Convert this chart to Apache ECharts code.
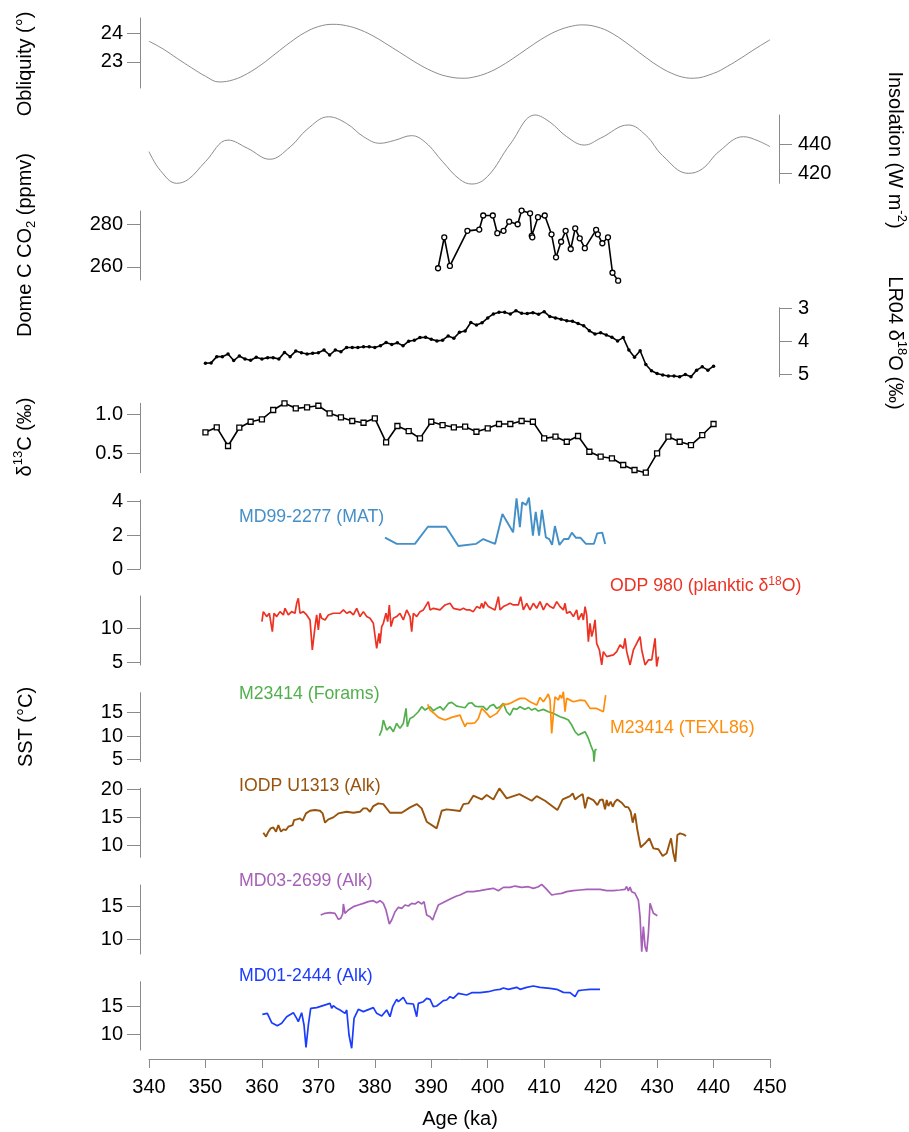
<!DOCTYPE html>
<html><head><meta charset="utf-8">
<script src="https://cdn.jsdelivr.net/npm/echarts@6/dist/echarts.min.js"></script>
<style>html,body{margin:0;padding:0;background:#fff}#c{width:909px;height:1132px}</style>
</head><body><div id="c"></div>
<script>
// ---------- DATA (age ka, value) ----------
const obliquity = [[340,23.72],[342.5,23.45],[345,23.12],[347.5,22.80],[350,22.50],[352.4,22.30],[355,22.38],[357.5,22.60],[360,22.92],[362.5,23.30],[365,23.68],[367.5,24.01],[370,24.23],[372.6,24.31],[375,24.26],[377.5,24.11],[380,23.87],[382.5,23.57],[385,23.26],[387.5,22.95],[390,22.69],[392.5,22.51],[395.6,22.43],[397.5,22.47],[400,22.62],[402.5,22.87],[405,23.19],[407.5,23.53],[410,23.85],[412.5,24.10],[415,24.25],[416.9,24.29],[420,24.18],[422.5,23.94],[425,23.60],[427.5,23.23],[430,22.88],[432.5,22.61],[435,22.45],[436.4,22.43],[440,22.60],[442.5,22.85],[445,23.15],[447.5,23.47],[450,23.77]];
const insolation = [[340,434.8],[342,422],[344.9,413.2],[347,416],[350,428],[354,442.7],[357.5,437],[361.4,429.6],[365,438],[368,450],[371.8,458.6],[375,454],[378,445],[380.9,440.5],[383.5,442.5],[386.5,445.7],[389,441],[392,428],[395,416],[397.2,412.7],[400,418],[404,440],[408.4,459.8],[411,455],[414,445],[417.1,439.3],[420,444],[424.9,453],[428,446],[431,432],[435.5,420],[438,423],[441,435],[445.3,445],[448,442],[450,438.2]];
const co2 = [[391.2,259.4],[392.3,273.9],[393.3,260.5],[396.4,276.9],[398.5,277.5],[399.2,284.1],[400.9,284.1],[401.7,275.8],[402.8,276.9],[403.8,281.2],[405.3,280.0],[406.0,286.4],[407.5,285.1],[407.8,274.6],[407.9,273.9],[408.9,283.3],[410.1,284.1],[411.3,275.3],[412.1,264.5],[413.0,271.8],[413.8,276.9],[414.7,268.4],[415.5,278.1],[416.3,273.4],[417.2,268.8],[419.2,277.4],[419.5,275.3],[420.3,271.1],[421.3,273.9],[422.1,257.3],[423.1,253.6]];
const lr04 = [[350,4.67],[351,4.66],[352,4.47],[353,4.47],[354,4.39],[355,4.59],[356,4.45],[357,4.54],[358,4.58],[359,4.49],[360,4.54],[361,4.50],[362,4.50],[363,4.54],[364,4.34],[365,4.47],[366,4.30],[367,4.35],[368,4.39],[369,4.37],[370,4.35],[371,4.27],[372,4.42],[373,4.27],[374,4.32],[375,4.19],[376,4.19],[377,4.19],[378,4.17],[379,4.17],[380,4.19],[381,4.14],[382,4.04],[383,4.10],[384,4.05],[385,4.14],[386,4.00],[387,3.97],[388,3.89],[389,3.88],[390,3.94],[391,3.99],[392,3.97],[393,3.84],[394,3.91],[395,3.73],[396,3.69],[397,3.43],[398,3.51],[399,3.44],[400,3.29],[401,3.17],[402,3.12],[403,3.12],[404,3.17],[405,3.07],[406,3.15],[407,3.16],[408,3.13],[409,3.18],[410,3.10],[411,3.25],[412,3.29],[413,3.33],[414,3.38],[415,3.39],[416,3.46],[417,3.53],[418,3.68],[419,3.78],[420,3.74],[421,3.81],[422,3.88],[423,3.99],[424,3.89],[425,4.27],[426,4.49],[427,4.29],[428,4.71],[429,4.90],[430,4.98],[431,5.03],[432,5.06],[433,5.06],[434,5.08],[435,5.01],[436,5.08],[437,4.88],[438,4.78],[439,4.88],[440,4.76]];
const d13c = [[350,0.772],[352,0.835],[354,0.598],[356,0.830],[358,0.906],[360,0.937],[362,1.055],[364,1.140],[366,1.076],[368,1.089],[370,1.109],[372,1.013],[374,0.962],[376,0.915],[378,0.893],[380,0.949],[382,0.645],[384,0.852],[386,0.788],[388,0.695],[390,0.906],[392,0.864],[394,0.835],[396,0.843],[398,0.779],[400,0.822],[402,0.877],[404,0.877],[406,0.915],[408,0.906],[410,0.695],[412,0.716],[414,0.652],[416,0.725],[418,0.525],[420,0.462],[422,0.442],[424,0.357],[426,0.293],[428,0.259],[430,0.505],[432,0.716],[434,0.652],[436,0.610],[438,0.737],[440,0.877]];
const md99 = [[381.8,1.86],[383.9,1.49],[387.1,1.49],[389.4,2.51],[392.6,2.51],[394.8,1.37],[397.9,1.49],[399.2,1.78],[401.3,1.49],[402.6,3.27],[404.5,2.18],[405.1,4.20],[405.7,2.48],[406.1,3.96],[406.8,3.80],[407.3,4.24],[408.0,1.98],[408.5,3.40],[409.1,1.98],[409.6,3.51],[410.3,1.88],[410.9,1.78],[411.4,1.43],[411.9,2.55],[412.7,1.43],[413.5,1.78],[414.3,1.78],[414.9,2.16],[415.6,1.86],[416.4,1.86],[417.4,1.49],[418.8,1.49],[419.4,2.12],[420.3,2.16],[420.8,1.49]];
const odp980 = [[360.0,10.98],[360.25,12.45],[360.84,11.72],[361.32,12.21],[361.85,9.51],[362.14,12.21],[362.62,11.72],[363.21,12.45],[363.80,11.96],[364.09,12.94],[364.68,11.96],[365.27,12.45],[365.86,12.21],[366.16,13.68],[366.45,14.41],[366.75,12.21],[367.34,12.45],[367.93,11.96],[368.52,11.23],[368.93,6.81],[369.41,10.25],[369.70,11.96],[370.00,9.75],[370.29,12.21],[370.59,11.47],[371.18,11.23],[371.77,11.96],[372.65,12.21],[373.84,12.21],[374.43,12.70],[375.02,12.21],[375.61,12.45],[376.20,11.96],[376.79,12.94],[377.38,11.72],[377.97,12.45],[378.56,11.72],[379.15,11.47],[379.74,10.74],[380.33,7.06],[380.74,9.26],[380.92,7.79],[381.22,10.25],[381.51,10.74],[381.98,12.21],[382.28,10.98],[382.57,13.43],[382.87,10.25],[383.28,11.47],[383.87,11.72],[384.46,12.21],[385.05,11.23],[385.65,12.70],[386.24,11.72],[386.53,9.51],[386.83,12.21],[387.42,11.72],[388.01,12.45],[388.60,12.70],[389.48,13.92],[389.78,12.70],[390.37,12.94],[391.55,12.70],[392.44,13.43],[393.32,13.68],[393.91,12.94],[395.09,12.70],[395.39,12.45],[395.68,12.94],[396.27,12.70],[396.86,12.70],[397.45,12.45],[398.05,13.19],[398.64,12.94],[398.93,13.68],[399.23,12.94],[399.52,13.92],[400.11,13.19],[400.70,12.94],[401.29,12.70],[401.88,14.66],[402.18,12.70],[402.77,13.19],[403.36,13.43],[403.95,13.68],[404.54,13.43],[405.43,13.43],[405.84,14.66],[406.31,12.70],[406.90,13.68],[407.49,12.70],[408.08,13.68],[408.67,12.94],[409.26,13.92],[409.86,12.70],[410.45,13.68],[411.04,13.19],[411.63,12.94],[412.22,13.92],[412.81,13.19],[413.40,12.70],[413.69,13.68],[413.99,12.21],[414.58,12.45],[415.17,11.72],[415.76,12.70],[416.06,11.23],[416.65,12.21],[416.94,11.23],[417.24,13.19],[417.53,11.96],[417.83,8.04],[418.12,10.74],[418.42,8.77],[418.71,9.75],[419.01,11.23],[419.30,7.79],[419.78,6.81],[420.19,4.61],[420.48,6.57],[421.08,5.83],[422.26,6.08],[422.85,6.57],[423.44,7.55],[424.03,7.06],[424.32,8.53],[424.62,6.57],[425.21,4.61],[425.80,6.81],[426.39,7.79],[426.98,8.77],[427.28,6.81],[427.87,4.61],[428.46,5.34],[429.05,5.34],[429.64,8.53],[429.93,4.37],[430.23,5.83]];
const m23414Forams = [[380.80,10.06],[381.22,11.28],[381.51,13.43],[382.10,11.28],[382.69,12.00],[383.28,10.92],[383.87,12.71],[384.46,11.64],[385.05,12.71],[385.53,15.93],[385.76,12.00],[386.24,13.78],[386.83,14.14],[387.71,15.21],[388.30,16.29],[388.89,15.57],[389.78,16.29],[390.37,15.43],[390.96,15.93],[391.55,16.29],[392.14,15.57],[393.03,17.00],[393.62,17.22],[394.50,16.43],[395.09,16.29],[395.98,16.07],[396.57,17.00],[397.16,17.15],[397.75,16.43],[398.34,16.29],[399.23,16.29],[399.82,15.57],[400.41,16.43],[401.00,16.79],[401.59,15.93],[402.18,16.29],[402.77,17.00],[403.36,15.21],[403.95,14.50],[404.54,15.93],[405.13,15.72],[405.72,16.29],[406.61,15.72],[407.20,16.14],[407.79,15.57],[408.38,15.93],[408.97,15.36],[409.86,15.72],[410.74,15.21],[411.04,14.86],[411.63,14.86],[412.22,14.50],[412.81,14.14],[413.69,13.78],[414.28,13.43],[414.88,12.35],[415.47,10.92],[416.06,10.21],[416.65,10.57],[417.24,10.92],[417.83,9.49],[418.24,8.06],[418.71,6.63],[418.83,4.48],[419.01,6.99],[419.30,7.13]];
const m23414Tex = [[389.37,16.79],[389.78,15.57],[390.37,15.00],[391.26,14.00],[392.44,13.43],[393.62,14.00],[395.09,14.50],[395.39,13.57],[395.98,12.00],[396.27,12.71],[397.16,12.71],[397.75,12.85],[398.34,13.78],[398.93,15.93],[399.23,16.29],[399.82,14.86],[400.41,14.00],[401.59,14.86],[402.77,16.86],[403.36,16.79],[403.95,17.00],[404.84,17.58],[405.72,18.08],[406.61,18.08],[407.49,17.36],[408.67,16.64],[409.26,18.29],[409.86,17.36],[410.45,18.43],[410.74,19.01],[411.04,17.72],[411.33,10.57],[411.92,18.43],[412.51,17.72],[412.81,18.79],[413.10,18.08],[413.40,19.51],[413.69,15.21],[413.99,18.08],[415.17,17.36],[416.35,17.72],[417.24,17.58],[418.12,15.93],[419.30,15.93],[420.48,15.21],[420.89,18.79]];
const u1313 = [[360.25,12.26],[360.73,11.55],[361.14,12.44],[361.55,13.04],[362.03,13.21],[362.50,12.44],[362.91,13.63],[363.38,12.44],[363.80,12.86],[364.27,12.74],[364.68,13.33],[364.98,13.21],[365.45,13.63],[365.69,14.52],[366.16,14.64],[366.75,14.82],[367.22,14.40],[367.81,15.71],[368.52,16.19],[369.41,16.31],[370.29,16.19],[370.76,15.71],[371.18,14.05],[371.77,14.64],[372.65,15.00],[373.54,15.71],[375.02,16.01],[376.20,15.83],[377.38,16.01],[377.97,16.61],[378.56,16.61],[379.15,16.01],[379.74,17.02],[380.63,17.50],[381.51,17.38],[382.69,15.83],[384.76,15.83],[386.24,16.79],[387.42,17.38],[388.30,16.61],[389.19,14.23],[390.96,13.04],[391.85,16.19],[392.73,16.43],[395.09,16.13],[395.68,17.38],[396.57,17.50],[397.45,18.87],[398.93,18.21],[399.82,18.99],[401.00,18.21],[402.06,20.18],[403.36,18.39],[405.60,19.17],[407.79,17.98],[408.67,18.81],[410.15,17.98],[412.34,16.31],[413.28,18.21],[414.58,18.81],[415.05,19.29],[415.47,18.21],[416.06,18.69],[416.82,19.17],[417.24,16.61],[417.71,18.57],[418.71,18.10],[419.01,18.21],[419.42,17.20],[419.89,18.10],[420.37,18.21],[420.78,16.43],[421.08,18.10],[421.37,17.02],[421.78,17.80],[422.14,16.90],[422.55,17.80],[422.96,18.21],[423.73,17.62],[424.32,16.90],[424.91,16.79],[425.33,16.01],[425.68,14.05],[426.09,15.71],[426.51,12.74],[427.10,9.64],[427.87,10.36],[428.63,11.25],[429.34,9.46],[430.23,9.29],[430.99,8.10],[431.70,8.57],[432.47,11.25],[432.88,8.57],[433.24,7.08],[433.59,11.85],[434.07,12.14],[434.66,11.96],[435.13,11.67]];
const md032699 = [[370.41,13.72],[371.18,13.98],[372.06,14.08],[372.95,13.98],[373.54,13.06],[373.95,13.21],[374.31,13.88],[374.43,15.41],[374.72,13.98],[375.31,14.49],[376.20,15.00],[377.08,15.26],[377.97,15.51],[378.85,15.77],[379.74,15.92],[380.33,15.61],[380.92,15.92],[381.51,15.51],[381.98,14.49],[382.57,12.35],[382.99,12.96],[383.58,14.23],[384.17,14.90],[384.76,14.74],[385.35,15.26],[385.94,15.10],[386.53,15.51],[387.12,15.41],[387.71,15.77],[388.30,15.41],[388.72,15.77],[389.19,13.72],[389.78,13.47],[390.25,12.96],[390.66,13.98],[390.96,14.59],[391.25,15.26],[391.85,15.51],[392.73,15.92],[393.62,16.28],[394.50,16.63],[395.09,16.79],[396.27,17.30],[397.45,17.30],[398.64,17.45],[399.82,17.65],[401.00,17.81],[401.88,17.45],[402.77,17.96],[403.95,17.96],[404.84,18.16],[406.02,17.96],[407.20,18.06],[408.08,17.81],[408.97,18.06],[409.56,18.42],[410.45,17.65],[411.33,16.79],[412.22,16.94],[413.10,17.04],[413.99,17.30],[415.17,17.45],[416.35,17.55],[417.53,17.65],[418.71,17.65],[419.89,17.65],[421.08,17.45],[422.26,17.45],[423.44,17.55],[424.32,17.65],[424.6,18.1],[424.91,17.40],[425.2,18.0],[425.50,17.30],[426.09,17.04],[426.68,16.02],[426.98,13.47],[427.28,8.11],[427.57,11.94],[427.87,8.88],[428.16,8.11],[428.46,10.92],[428.75,15.51],[429.05,15.77],[429.34,13.98],[429.64,13.72],[430.05,13.62]];
const md012444 = [[360.08,13.60],[360.96,13.78],[361.73,12.07],[362.73,11.52],[363.50,11.95],[364.39,13.17],[365.57,13.90],[366.16,12.87],[366.45,12.26],[367.04,13.90],[367.46,11.65],[367.81,7.56],[368.23,11.65],[368.64,14.70],[369.70,14.82],[372.06,15.61],[372.36,14.70],[372.65,15.18],[373.24,14.70],[373.84,14.39],[374.72,13.78],[375.02,14.39],[375.43,9.82],[375.90,7.38],[376.32,12.87],[377.08,14.51],[377.97,14.09],[379.74,14.82],[380.33,13.78],[381.22,13.29],[382.10,14.39],[382.69,13.17],[383.16,15.00],[383.87,16.34],[384.17,15.91],[385.05,16.71],[385.65,15.61],[386.83,15.49],[387.42,13.17],[387.71,15.61],[388.60,15.91],[389.19,16.52],[389.78,16.34],[390.37,15.00],[390.96,15.12],[391.55,15.61],[392.14,16.10],[392.73,16.22],[393.32,16.83],[393.91,16.52],[394.80,17.44],[396.27,17.13],[397.16,17.56],[398.64,17.56],[400.11,17.74],[400.41,17.93],[401.29,18.05],[402.18,18.17],[402.77,18.41],[403.66,18.17],[405.13,18.54],[405.72,18.17],[406.90,18.54],[408.08,18.78],[409.26,18.54],[411.04,18.35],[412.22,18.17],[413.40,17.62],[414.58,17.56],[415.47,16.83],[416.06,17.93],[416.94,18.05],[418.12,18.17],[419.30,18.17],[419.89,18.17]];

// tick labels
const ageTicks = [340,350,360,370,380,390,400,410,420,430,440,450];
const oblTicks = [23,24];
const insTicks = [420,440];
const co2Ticks = [260,280];
const lr04Ticks = [3,4,5];
const d13cTicks = [0.5,1.0];
const md99Ticks = [0,2,4];
const odpTicks = [5,10];
const m234Ticks = [5,10,15];
const u1313Ticks = [10,15,20];
const md03Ticks = [10,15];
const md01Ticks = [10,15];

// ---------- LAYOUT ----------
const FF = "'Liberation Sans', Arial, Helvetica, sans-serif";
const panels = [
  {top:18,   h:70,   min:22.09, max:24.53, ticks:oblTicks,  pos:'left'},
  {top:115,  h:68.3, min:413.2, max:459.8, ticks:insTicks,  pos:'right'},
  {top:211,  h:69,   min:253.9, max:286.2, ticks:co2Ticks,  pos:'left'},
  {top:307.7,h:69,   min:2.98,  max:5.08,  ticks:lr04Ticks, pos:'right', inverse:true},
  {top:403.3,h:69.4, min:0.259, max:1.14,  ticks:d13cTicks, pos:'left', fmt:v=>v.toFixed(1)},
  {top:500,  h:69,   min:0,     max:4.1,   ticks:md99Ticks, pos:'left'},
  {top:596,  h:69,   min:4.6,   max:14.75, ticks:odpTicks,  pos:'left'},
  {top:692.7,h:69,   min:4.49,  max:19.3,  ticks:m234Ticks, pos:'left'},
  {top:788.3,h:69,   min:7.86,  max:20.2,  ticks:u1313Ticks,pos:'left'},
  {top:885,  h:69,   min:7.75,  max:18.32, ticks:md03Ticks, pos:'left'},
  {top:981.7,h:68.3, min:7.07,  max:19.57, ticks:md01Ticks, pos:'left'}
];
const AX = '#8a8a8a';
const grids = [], xAxes = [], yAxes = [];
panels.forEach((p,i)=>{
  grids.push({left:149, width:621, top:p.top, height:p.h});
  const last = i === panels.length-1;
  xAxes.push({type:'value', gridIndex:i, min:ageTicks[0], max:ageTicks[ageTicks.length-1], interval:10, show:last, offset:9,
    axisLine:{show:true, lineStyle:{color:AX, width:1}},
    axisTick:{show:true, length:9, lineStyle:{color:AX}},
    axisLabel:{fontSize:20, color:'#000', margin:18, fontFamily:FF},
    splitLine:{show:false}});
  const ax = {type:'value', gridIndex:i, min:p.min, max:p.max, position:p.pos, offset:9, inverse:!!p.inverse,
    splitLine:{show:false},
    axisLine:{show:true, lineStyle:{color:AX, width:1}},
    axisTick:{show:true, length:13, customValues:p.ticks, lineStyle:{color:AX}},
    axisLabel:{customValues:p.ticks, fontSize:20, color:'#000', margin:p.pos==='left'?17:19, fontFamily:FF}};
  if (p.fmt) ax.axisLabel.formatter = p.fmt;
  yAxes.push(ax);
});

function line(i, data, color, width, extra){
  return Object.assign({type:'line', xAxisIndex:i, yAxisIndex:i, data:data, showSymbol:false, clip:false,
    lineStyle:{color:color, width:width}, itemStyle:{color:color}, silent:true}, extra||{});
}
const series = [
  line(0, obliquity, '#8c8c8c', 1, {smooth:0.4}),
  line(1, insolation, '#8c8c8c', 1, {smooth:0.4}),
  line(2, co2, '#000', 1.6, {showSymbol:true, showAllSymbol:true, symbol:'circle', symbolSize:5,
    itemStyle:{color:'#fff', borderColor:'#000', borderWidth:1.3}}),
  line(3, lr04, '#000', 1.6, {showSymbol:true, showAllSymbol:true, symbol:'circle', symbolSize:3.5,
    itemStyle:{color:'#000'}}),
  line(4, d13c, '#000', 1.6, {showSymbol:true, showAllSymbol:true, symbol:'rect', symbolSize:5,
    itemStyle:{color:'#fff', borderColor:'#000', borderWidth:1.3}}),
  line(5, md99, '#4390c8', 1.9),
  line(6, odp980, '#ec3223', 1.7),
  line(7, m23414Forams, '#52b04c', 1.7),
  line(7, m23414Tex, '#ff8d0a', 1.7),
  line(8, u1313, '#98530c', 1.9),
  line(9, md032699, '#a660b8', 1.7),
  line(10, md012444, '#1a3cff', 1.7)
];

const base = {fontSize:20, fontFamily:FF, fill:'#000', lineHeight:26, verticalAlign:'middle'};
const sup = {fontSize:13, fontFamily:FF, fill:'#000', verticalAlign:'top'};
const sub = {fontSize:13, fontFamily:FF, fill:'#000', verticalAlign:'bottom'};
function rotText(x, y, text, rot){
  return {type:'text', x:x, y:y, rotation:rot, silent:true,
    style:{text:text, rich:{a:base, s:sup, b:sub}, align:'center', verticalAlign:'middle', font:'20px '+FF, fill:'#000'}};
}
function lbl(x, y, text, color, sz){
  const r = {a:{fontSize:sz, fontFamily:FF, fill:color, lineHeight:22, verticalAlign:'middle'},
             s:{fontSize:12, fontFamily:FF, fill:color, verticalAlign:'top'}};
  return {type:'text', x:x, y:y, silent:true,
    style:{text:text, rich:r, align:'left', verticalAlign:'middle', fill:color, font:sz+'px '+FF}};
}
const graphics = [
  rotText(25, 64, '{a|Obliquity (°)}', Math.PI/2),
  rotText(25, 245, '{a|Dome C CO}{b|2}{a| (ppmv)}', Math.PI/2),
  rotText(25, 437, '{a|δ}{s|13}{a|C (‰)}', Math.PI/2),
  rotText(26, 727, '{a|SST (°C)}', Math.PI/2),
  rotText(895, 150, '{a|Insolation (W m}{s|-2}{a|)}', -Math.PI/2),
  rotText(895, 343, '{a|LR04 δ}{s|18}{a|O (‰)}', -Math.PI/2),
  {type:'text', x:460, y:1119, silent:true, style:{text:'Age (ka)', font:'20px '+FF, fill:'#000', align:'center', verticalAlign:'middle'}},
  lbl(239, 517.5, '{a|MD99-2277 (MAT)}', '#4390c8', 17.7),
  lbl(610, 586.5, '{a|ODP 980 (planktic δ}{s|18}{a|O)}', '#ec3223', 17.7),
  lbl(239, 694.5, '{a|M23414 (Forams)}', '#52b04c', 17.7),
  lbl(610, 728.5, '{a|M23414 (TEXL86)}', '#ff8d0a', 17.7),
  lbl(239, 786.5, '{a|IODP U1313 (Alk)}', '#98530c', 17.7),
  lbl(239, 881, '{a|MD03-2699 (Alk)}', '#a660b8', 17.7),
  lbl(239, 976, '{a|MD01-2444 (Alk)}', '#1a3cff', 17.7)
];

const chart = echarts.init(document.getElementById('c'), null, {renderer:'canvas'});
chart.setOption({animation:false, backgroundColor:'#fff', grid:grids, xAxis:xAxes, yAxis:yAxes, series:series, graphic:graphics});
</script>
</body></html>
